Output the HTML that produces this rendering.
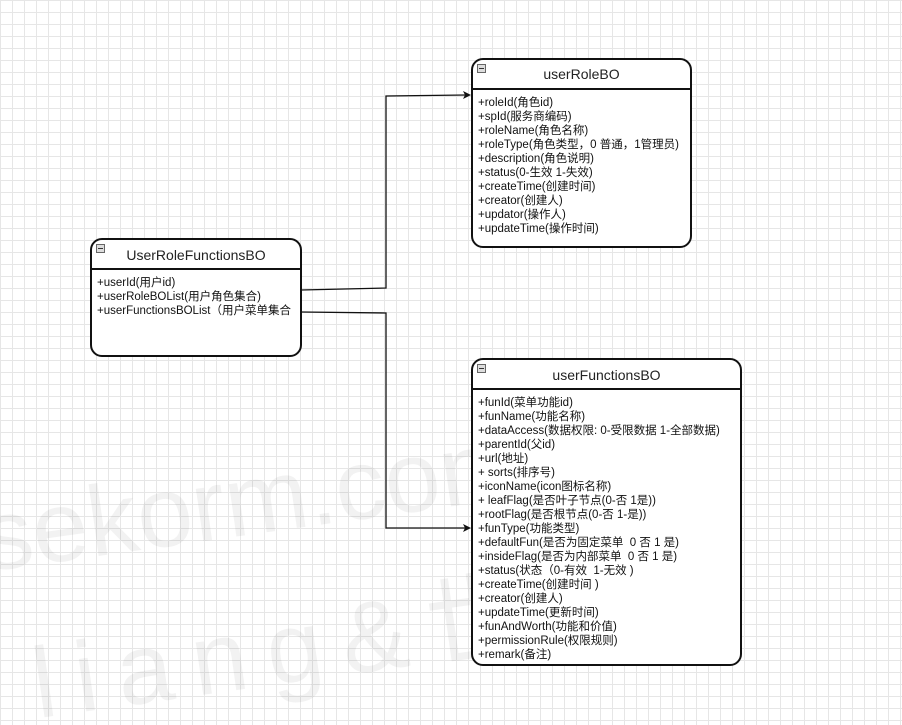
<!DOCTYPE html>
<html style="overflow:hidden"><head><meta charset="utf-8"><style>
html,body{width:902px;height:725px;overflow:hidden}
body{margin:0;background:#fff;
background-image:linear-gradient(#e6e6e6 1px,transparent 1px),linear-gradient(90deg,#e6e6e6 1px,transparent 1px);
background-size:12px 12px;font-family:"Liberation Sans","Noto Sans CJK SC",sans-serif;position:relative}
.box{position:absolute;border:2.5px solid #111;border-radius:12px;background:#fff;box-sizing:border-box}
.hd{position:absolute;left:0;right:0;top:0;border-bottom:2px solid #111;text-align:center;font-size:14px;color:#222}
.mn{position:absolute;left:4px;top:4px;width:7px;height:7px;border:1px solid #666;background:#ddd}
.mn:after{content:"";position:absolute;left:1px;top:3px;width:5px;height:1px;background:#333}
.rows{position:absolute;left:5px;font-size:11.5px;line-height:14px;color:#111;white-space:nowrap}
.wm{position:absolute;color:rgba(0,0,0,0.05);font-size:100px;line-height:100px;white-space:nowrap;transform:rotate(-8deg)}
</style></head><body>
<div class="wm" style="left:-20px;top:450px;">sekorm.com</div>
<div class="wm" style="left:30px;top:590px;letter-spacing:20px">liang&amp;世强</div>
<svg width="902" height="725" style="position:absolute;left:0;top:0">
<g fill="none" stroke="#111" stroke-width="1.3">
<path d="M301 290 L386 288 L386 96 L466 95"/>
<path d="M301 312 L386 313 L386 528 L466 528"/>
</g>
<path d="M471 95 L463 91 L465 95 L463 99 Z" fill="#111"/>
<path d="M471 528 L463 524 L465 528 L463 532 Z" fill="#111"/>
</svg>
<div class="box" style="left:471px;top:58px;width:221px;height:190px">
<div class="hd" style="height:28px;line-height:28px">userRoleBO</div><div class="mn"></div>
<div class="rows" style="top:36px">+roleId(角色id)<br>+spId(服务商编码)<br>+roleName(角色名称)<br>+roleType(角色类型，0 普通，1管理员)<br>+description(角色说明)<br>+status(0-生效 1-失效)<br>+createTime(创建时间)<br>+creator(创建人)<br>+updator(操作人)<br>+updateTime(操作时间)</div>
</div>
<div class="box" style="left:90px;top:238px;width:212px;height:119px">
<div class="hd" style="height:28px;line-height:30px">UserRoleFunctionsBO</div><div class="mn"></div>
<div class="rows" style="top:36px">+userId(用户id)<br>+userRoleBOList(用户角色集合)<br>+userFunctionsBOList（用户菜单集合</div>
</div>
<div class="box" style="left:471px;top:358px;width:271px;height:308px">
<div class="hd" style="height:28px;line-height:30px">userFunctionsBO</div><div class="mn"></div>
<div class="rows" style="top:36px">+funId(菜单功能id)<br>+funName(功能名称)<br>+dataAccess(数据权限: 0-受限数据 1-全部数据)<br>+parentId(父id)<br>+url(地址)<br>+ sorts(排序号)<br>+iconName(icon图标名称)<br>+ leafFlag(是否叶子节点(0-否 1是))<br>+rootFlag(是否根节点(0-否 1-是))<br>+funType(功能类型)<br>+defaultFun(是否为固定菜单&nbsp; 0 否 1 是)<br>+insideFlag(是否为内部菜单&nbsp; 0 否 1 是)<br>+status(状态（0-有效&nbsp; 1-无效 )<br>+createTime(创建时间 )<br>+creator(创建人)<br>+updateTime(更新时间)<br>+funAndWorth(功能和价值)<br>+permissionRule(权限规则)<br>+remark(备注)</div>
</div>
</body></html>
